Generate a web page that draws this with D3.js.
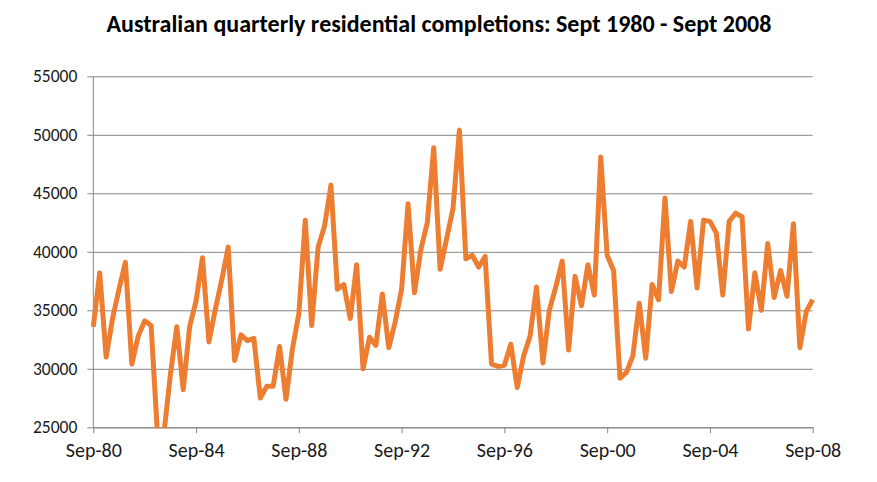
<!DOCTYPE html>
<html>
<head>
<meta charset="utf-8">
<script src="https://cdn.jsdelivr.net/npm/d3@7"></script>
<style>
  body { margin: 0; background: #fff; }
  text { font-family: Carlito, Calibri, "Liberation Sans", sans-serif; }
</style>
</head>
<body>
<svg id="chart" width="877" height="482"></svg>
<script>
const title = "Australian quarterly residential completions: Sept 1980 - Sept 2008"

// quarterly completions, Sep-80 .. Sep-08 (113 quarters)
const completions = [
  33600, 38200, 31000, 34300, 36800, 39100, 30400, 32800, 34100, 33700,
  24300, 24500, 29500, 33600, 28200, 33600, 35800, 39500, 32300, 35100,
  37600, 40400, 30700, 32900, 32400, 32600, 27500, 28500, 28500, 31900,
  27400, 31700, 34700, 42700, 33700, 40400, 42200, 45700, 36800, 37200,
  34300, 38900, 30000, 32700, 32000, 36400, 31800, 34000, 36800, 44100,
  36500, 40200, 42500, 48900, 38500, 41100, 43700, 50400, 39400, 39700,
  38700, 39600, 30400, 30200, 30300, 32100, 28400, 31100, 32800, 37000,
  30500, 35000, 37000, 39200, 31600, 37900, 35400, 38900, 36300, 48100,
  39700, 38400, 29200, 29700, 31100, 35600, 30900, 37200, 35900, 44600,
  36600, 39200, 38700, 42600, 36900, 42700, 42600, 41600, 36300, 42600,
  43300, 43000, 33400, 38200, 35000, 40700, 36100, 38400, 36200, 42400,
  31800, 34900, 35900
]
const xTickLabels = ["Sep-80", "Sep-84", "Sep-88", "Sep-92", "Sep-96", "Sep-00", "Sep-04", "Sep-08"]
const yTicks = [25000, 30000, 35000, 40000, 45000, 50000, 55000]

const svg = d3.select("#chart")
const mLeft = 93.3, mRight = 812.7, mTop = 76.3, mBottom = 427.3

const x = d3.scaleLinear().domain([0, completions.length - 1]).range([mLeft, mRight])
const y = d3.scaleLinear().domain([25000, 55000]).range([mBottom, mTop])

svg.append("text")
  .attr("x", 439).attr("y", 32)
  .attr("text-anchor", "middle")
  .attr("font-size", 24).attr("font-weight", "bold")
  .attr("fill", "#000")
  .text(title)

// gridlines + y axis
const yAxis = svg.append("g")
  .attr("transform", `translate(${mLeft},0)`)
  .call(d3.axisLeft(y).tickValues(yTicks).tickFormat(d3.format("d"))
    .tickSize(-(mRight - mLeft)).tickPadding(16))
yAxis.select(".domain").remove()
yAxis.selectAll("line").attr("stroke", "#868686").attr("x1", -6)
yAxis.selectAll("text").attr("font-size", 17.5).attr("fill", "#1a1a1a")

svg.append("line")
  .attr("x1", mLeft).attr("x2", mLeft).attr("y1", mTop).attr("y2", mBottom)
  .attr("stroke", "#868686")

// x axis, a tick every 16 quarters
const xAxis = svg.append("g")
  .attr("transform", `translate(0,${mBottom})`)
  .call(d3.axisBottom(x).tickValues(d3.range(0, completions.length, 16))
    .tickFormat((d, i) => xTickLabels[i]).tickSize(6).tickSizeOuter(0).tickPadding(10))
xAxis.select(".domain").attr("stroke", "#868686")
xAxis.selectAll("line").attr("stroke", "#868686")
xAxis.selectAll("text").attr("font-size", 20).attr("fill", "#1a1a1a")

svg.append("clipPath").attr("id", "plot")
  .append("rect").attr("x", 0).attr("y", 0).attr("width", 877).attr("height", mBottom + 1)

svg.append("path")
  .datum(completions)
  .attr("clip-path", "url(#plot)")
  .attr("fill", "none")
  .attr("stroke", "#ED7D31")
  .attr("stroke-width", 5)
  .attr("stroke-linejoin", "round")
  .attr("d", d3.line()
    .x((d, i) => x(i))
    .y(d => y(d)))
</script>
</body>
</html>
